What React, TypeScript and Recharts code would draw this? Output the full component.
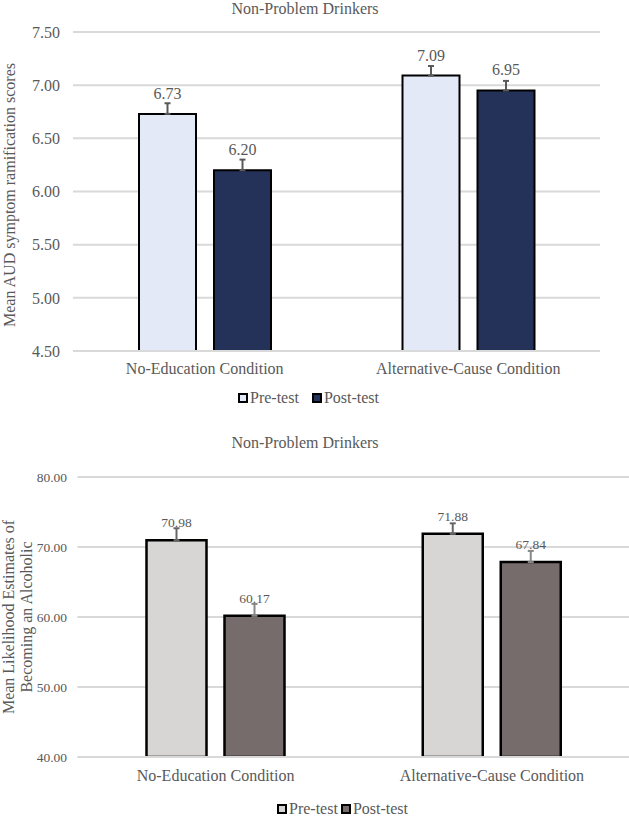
import React from "react";
import { BarChart, Bar, XAxis, YAxis, CartesianGrid, ErrorBar, LabelList, Legend } from "recharts";

const conditions = ["No-Education Condition", "Alternative-Cause Condition"];

// AUD symptom ramification scores
const audPre = [6.73, 7.09];
const audPost = [6.2, 6.95];
const audPreErr = [0.1, 0.09];
const audPostErr = [0.1, 0.09];
const audTicks = [4.5, 5, 5.5, 6, 6.5, 7, 7.5];

// likelihood of becoming an alcoholic
const likePre = [70.98, 71.88];
const likePost = [60.17, 67.84];
const likePreErr = [1.7, 1.5];
const likePostErr = [1.7, 1.6];
const likeTicks = [40, 50, 60, 70, 80];

const seriesNames = ["Pre-test", "Post-test"];

const FONT = '"Liberation Serif", "Times New Roman", serif';
const TEXT = "#595959";
const GRID = "#d9d9d9";

const audData = conditions.map((c, i) => ({
  condition: c,
  pre: audPre[i],
  post: audPost[i],
  preErr: [0, audPreErr[i]],
  postErr: [0, audPostErr[i]],
}));

const likeData = conditions.map((c, i) => ({
  condition: c,
  pre: likePre[i],
  post: likePost[i],
  preErr: [0, likePreErr[i]],
  postErr: [0, likePostErr[i]],
}));

function SquareLegend({ colors, gap }: { colors: string[]; gap: number }) {
  return (
    <div style={{ display: "flex", alignItems: "center", fontFamily: FONT, fontSize: 16, color: TEXT, lineHeight: "16px", gap }}>
      {seriesNames.map((name, i) => (
        <span key={name} style={{ display: "flex", alignItems: "center" }}>
          <span
            style={{
              display: "inline-block",
              width: 6,
              height: 6,
              border: "2px solid #000",
              background: colors[i],
              marginRight: 2,
            }}
          />
          {name}
        </span>
      ))}
    </div>
  );
}

function Title({ top }: { top: number }) {
  return (
    <div
      style={{
        position: "absolute",
        top,
        left: 0,
        width: 610,
        textAlign: "center",
        fontFamily: FONT,
        fontSize: 16,
        lineHeight: "16px",
        color: TEXT,
      }}
    >
      Non-Problem Drinkers
    </div>
  );
}

function RotatedLabel({ cx, cy, text }: { cx: number; cy: number; text: string }) {
  const w = 320;
  return (
    <div
      style={{
        position: "absolute",
        left: cx - w / 2,
        top: cy - 9,
        width: w,
        height: 18,
        lineHeight: "18px",
        textAlign: "center",
        transform: "rotate(-90deg)",
        fontFamily: FONT,
        fontSize: 16,
        color: TEXT,
        whiteSpace: "nowrap",
      }}
    >
      {text}
    </div>
  );
}

export default function App() {
  const audColors = ["#e3e9f7", "#24325a"];
  const likeColors = ["#d7d6d4", "#766c6b"];
  return (
    <div style={{ position: "absolute", left: 0, top: 0, width: 629, height: 818, overflow: "hidden", background: "#fff" }}>
      <Title top={1} />
      <RotatedLabel cx={10} cy={195} text="Mean AUD symptom ramification scores" />
      <div style={{ position: "absolute", left: 0, top: 0 }}>
        <BarChart
          width={629}
          height={420}
          data={audData}
          margin={{ top: 32, right: 29, bottom: 39, left: 0 }}
          barSize={57}
          barGap={18}
        >
          <CartesianGrid vertical={false} stroke={GRID} strokeWidth={2} />
          <XAxis
            dataKey="condition"
            height={30}
            tickLine={false}
            tickSize={0}
            tickMargin={12}
            axisLine={{ stroke: GRID, strokeWidth: 2 }}
            tick={{ fill: TEXT, fontSize: 16, fontFamily: FONT }}
          />
          <YAxis
            width={73}
            domain={[4.5, 7.5]}
            ticks={audTicks}
            allowDataOverflow
            axisLine={false}
            tickLine={false}
            tickSize={0}
            tickMargin={13}
            tickFormatter={(v: number) => v.toFixed(2)}
            tick={{ fill: TEXT, fontSize: 16, fontFamily: FONT }}
          />
          <Legend
            verticalAlign="middle"
            wrapperStyle={{ top: 390, left: 238, width: "auto" }}
            content={() => <SquareLegend colors={audColors} gap={13} />}
          />
          <Bar dataKey="pre" name={seriesNames[0]} fill={audColors[0]} stroke="#000" strokeWidth={2} isAnimationActive={false}>
            <ErrorBar dataKey="preErr" direction="y" width={3} stroke="#595959" strokeWidth={2} />
            <LabelList
              dataKey="pre"
              position="top"
              offset={15}
              formatter={(v: number) => v.toFixed(2)}
              style={{ fill: TEXT, fontSize: 16, fontFamily: FONT }}
            />
          </Bar>
          <Bar dataKey="post" name={seriesNames[1]} fill={audColors[1]} stroke="#000" strokeWidth={2} isAnimationActive={false}>
            <ErrorBar dataKey="postErr" direction="y" width={3} stroke="#595959" strokeWidth={2} />
            <LabelList
              dataKey="post"
              position="top"
              offset={15}
              formatter={(v: number) => v.toFixed(2)}
              style={{ fill: TEXT, fontSize: 16, fontFamily: FONT }}
            />
          </Bar>
        </BarChart>
      </div>

      <Title top={435} />
      <RotatedLabel cx={9} cy={617} text="Mean Likelihood Estimates of" />
      <RotatedLabel cx={27} cy={617} text="Becoming an Alcoholic" />
      <div style={{ position: "absolute", left: 0, top: 420 }}>
        <BarChart
          width={630}
          height={398}
          data={likeData}
          margin={{ top: 57, right: 0, bottom: 31, left: 0 }}
          barSize={60}
          barGap={18}
        >
          <CartesianGrid vertical={false} stroke={GRID} strokeWidth={2} />
          <XAxis
            dataKey="condition"
            height={30}
            tickLine={false}
            tickSize={0}
            tickMargin={13}
            axisLine={{ stroke: GRID, strokeWidth: 2 }}
            tick={{ fill: TEXT, fontSize: 16, fontFamily: FONT }}
          />
          <YAxis
            width={77.5}
            domain={[40, 80]}
            ticks={likeTicks}
            allowDataOverflow
            axisLine={false}
            tickLine={false}
            tickSize={0}
            tickMargin={10.5}
            tickFormatter={(v: number) => v.toFixed(2)}
            tick={{ fill: TEXT, fontSize: 13.5, fontFamily: FONT }}
          />
          <Legend
            verticalAlign="middle"
            wrapperStyle={{ top: 381, left: 277, width: "auto" }}
            content={() => <SquareLegend colors={likeColors} gap={3} />}
          />
          <Bar dataKey="pre" name={seriesNames[0]} fill={likeColors[0]} stroke="#000" strokeWidth={2.5} isAnimationActive={false}>
            <ErrorBar dataKey="preErr" direction="y" width={3} stroke="#666" strokeWidth={2} />
            <LabelList
              dataKey="pre"
              position="top"
              offset={13}
              formatter={(v: number) => v.toFixed(2)}
              style={{ fill: TEXT, fontSize: 13.5, fontFamily: FONT }}
            />
          </Bar>
          <Bar dataKey="post" name={seriesNames[1]} fill={likeColors[1]} stroke="#000" strokeWidth={2.5} isAnimationActive={false}>
            <ErrorBar dataKey="postErr" direction="y" width={3} stroke="#888" strokeWidth={2} />
            <LabelList
              dataKey="post"
              position="top"
              offset={13}
              formatter={(v: number) => v.toFixed(2)}
              style={{ fill: TEXT, fontSize: 13.5, fontFamily: FONT }}
            />
          </Bar>
        </BarChart>
      </div>
    </div>
  );
}
